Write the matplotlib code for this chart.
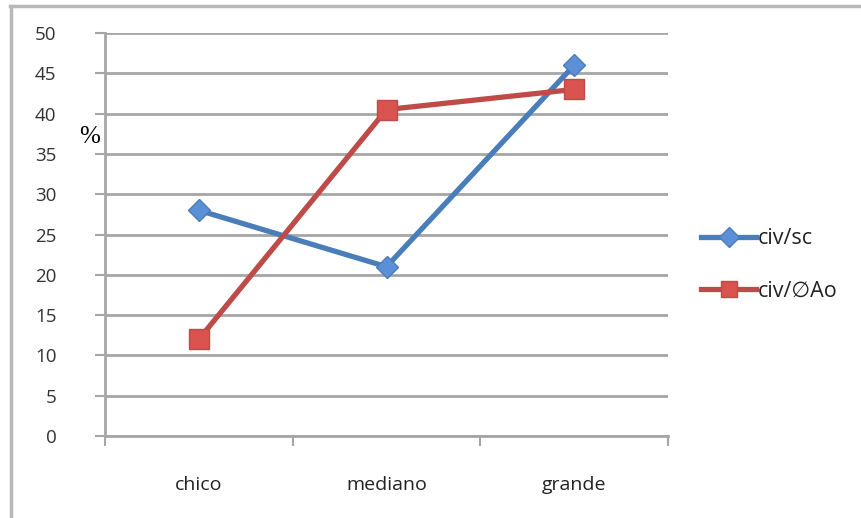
import matplotlib
matplotlib.use("Agg")
import matplotlib.pyplot as plt
from matplotlib.lines import Line2D

# category sizes and percentages per series
categories = ["chico", "mediano", "grande"]
civ_sc = [28.0, 21.0, 46.0]
civ_ao = [12.0, 40.5, 43.0]
yticks = [0, 5, 10, 15, 20, 25, 30, 35, 40, 45, 50]

blue = "#4a7ebb"
red = "#be4b48"
grid_gray = "#a6a6a6"
font = ["Open Sans", "DejaVu Sans"]

fig = plt.figure(figsize=(8.61, 5.18), dpi=100)
ax = fig.add_axes([105 / 861, 1 - 436 / 518, (668 - 105) / 861, (436 - 33) / 518])

xs = [i + 0.5 for i in range(len(categories))]
ax.plot(xs, civ_sc, color=blue, lw=3.8, marker="D", markersize=11,
        markerfacecolor="#5b8fd6", markeredgecolor=blue, solid_capstyle="round",
        zorder=3)
ax.plot(xs, civ_ao, color=red, lw=3.8, marker="s", markersize=14,
        markerfacecolor="#d9534f", markeredgecolor=red, zorder=4)

ax.set_xlim(0, 3)
ax.set_ylim(0, 50)
ax.set_yticks(yticks)
ax.set_xticks([0, 1, 2, 3])
ax.set_xticklabels([])
ax.set_xticks(xs, minor=True)
ax.set_xticklabels(categories, minor=True)
ax.tick_params(axis="x", which="minor", length=0, pad=29, labelsize=14,
               labelcolor="#222222")
ax.tick_params(axis="x", which="major", length=7, width=1.5, color=grid_gray,
               direction="out")
ax.tick_params(axis="y", length=7, width=1.5, color=grid_gray, labelsize=13.5,
               labelcolor="#333333", pad=28)
for lab in ax.get_xticklabels(minor=True) + ax.get_yticklabels():
    lab.set_family(font)

ax.yaxis.grid(True, color=grid_gray, lw=2)
ax.set_axisbelow(True)
for side in ["top", "right"]:
    ax.spines[side].set_visible(False)
for side in ["left", "bottom"]:
    ax.spines[side].set_color(grid_gray)
    ax.spines[side].set_linewidth(2)
# closing tick at the right end of the category axis
ax.plot([3, 3], [0, -0.9], color=grid_gray, lw=1.5, clip_on=False)

fig.text(79 / 861, 1 - 137 / 518, "%", family=["Liberation Serif"], fontsize=18,
         va="center", ha="left")

handles = [
    Line2D([], [], color=blue, lw=3.8, marker="D", markersize=10,
           markerfacecolor="#5b8fd6", markeredgecolor=blue),
    Line2D([], [], color=red, lw=3.8, marker="s", markersize=12,
           markerfacecolor="#d9534f", markeredgecolor=red),
]
leg = fig.legend(handles, ["civ/sc", "civ/\u2205Ao"], loc="center left",
                 bbox_to_anchor=(682 / 861, 1 - 265 / 518), frameon=False,
                 handlelength=2.55, handletextpad=0.05, labelspacing=1.45,
                 prop={"family": font, "size": 15.5})
for t in leg.get_texts():
    t.set_color("#222222")

# outer chart frame
fig.add_artist(Line2D([10 / 861, 1], [1 - 6 / 518, 1 - 6 / 518],
                      color="#b8b8b8", lw=2.5, transform=fig.transFigure))
fig.add_artist(Line2D([11 / 861, 11 / 861], [0, 1 - 6 / 518],
                      color="#b8b8b8", lw=2.5, transform=fig.transFigure))

fig.savefig("out.png", dpi=100)
